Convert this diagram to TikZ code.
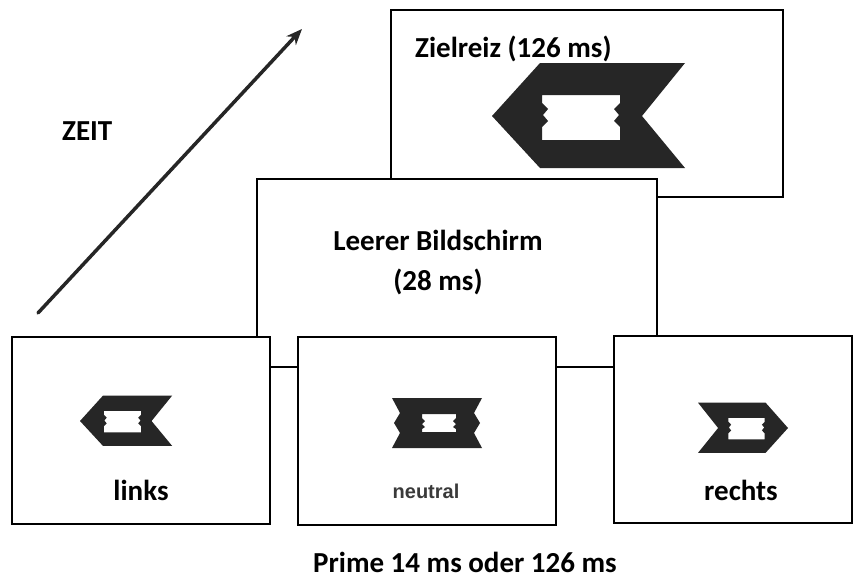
\documentclass[tikz,border=0pt]{standalone}
\usepackage{fontspec}
\setmainfont{Carlito}
\newfontfamily\arialfont{Liberation Sans}
\usetikzlibrary{arrows.meta}
\definecolor{ink}{HTML}{262626}
\definecolor{neutralgray}{HTML}{3A3A3A}
\newcommand{\chevronleft}{%
  \fill[ink,even odd rule]
    (0,0) -- (48,-53) -- (193,-53) -- (150,0) -- (193,52) -- (48,52) -- cycle
    (50,-21) -- (128,-21) -- (128,-13) -- (122,-7) -- (127,-1) -- (122,5) -- (128,11) -- (128,24)
    -- (50,24) -- (50,11) -- (56,5) -- (51,-1) -- (56,-7) -- (50,-13) -- cycle;}
\newcommand{\neutralshape}{%
  \fill[ink,even odd rule]
    (-45,-25) -- (45,-25) -- (37,-10) -- (43,0) -- (37,10) -- (45,25)
    -- (-45,25) -- (-37,10) -- (-43,0) -- (-37,-10) -- cycle
    (-15,-9) -- (19,-9) -- (19,-5) -- (16,-2) -- (19,1) -- (16,4) -- (19,6) -- (19,9)
    -- (-15,9) -- (-15,6) -- (-12,4) -- (-15,1) -- (-12,-2) -- (-15,-5) -- cycle;}
\begin{document}
\begin{tikzpicture}[x=1pt,y=-1pt,
  screen/.style={draw=black,line width=1.2pt,fill=white,inner sep=0pt,rectangle},
  lbl/.style={inner sep=0pt,font=\fontsize{29}{34}\selectfont\bfseries,text=black},
  nlbl/.style={inner sep=0pt,font=\fontsize{20}{24}\selectfont\arialfont\bfseries,text=neutralgray}]
\useasboundingbox (0,0) rectangle (863,581);
% screens (back to front)
\node[screen,minimum width=392pt,minimum height=187pt] (ziel) at (587,103.5) {};
\node[screen,minimum width=400pt,minimum height=188pt] (leer) at (457,273) {};
\node[screen,minimum width=258pt,minimum height=187pt] (links) at (141,430.5) {};
\node[screen,minimum width=258pt,minimum height=188pt] (neutral) at (427,431) {};
\node[screen,minimum width=238pt,minimum height=187pt] (rechts) at (733,429.5) {};
% stimuli
\begin{scope}[shift={(492,116)}]
  \chevronleft
\end{scope}
\begin{scope}[shift={(80,421)},scale=0.477]
  \chevronleft
\end{scope}
\begin{scope}[shift={(437,423)}]
  \neutralshape
\end{scope}
\begin{scope}[shift={(788,428)},xscale=-0.466,yscale=0.477]
  \chevronleft
\end{scope}
% texts
\node[lbl,anchor=base west] (zieltext) at (415,57) {Zielreiz (126 ms)};
\node[lbl,anchor=base] (leertext1) at (438,250) {Leerer Bildschirm};
\node[lbl,anchor=base] (leertext2) at (438,290) {(28 ms)};
\node[lbl,anchor=base west] (zeit) at (62,140) {ZEIT};
\node[lbl,anchor=base] (linkstext) at (141,500) {links};
\node[nlbl,anchor=base] (neutraltext) at (426,498) {neutral};
\node[lbl,anchor=base] (rechtstext) at (741,500) {rechts};
\node[lbl,anchor=base] (prime) at (465,572) {Prime 14 ms oder 126 ms};
% time arrow
\coordinate (t0) at (38,313);
\coordinate (t1) at (302,29);
\draw[ink,line width=3.5pt,line cap=round,-{Stealth[length=16pt,width=13pt]}] (t0) -- (t1);
\end{tikzpicture}
\end{document}
